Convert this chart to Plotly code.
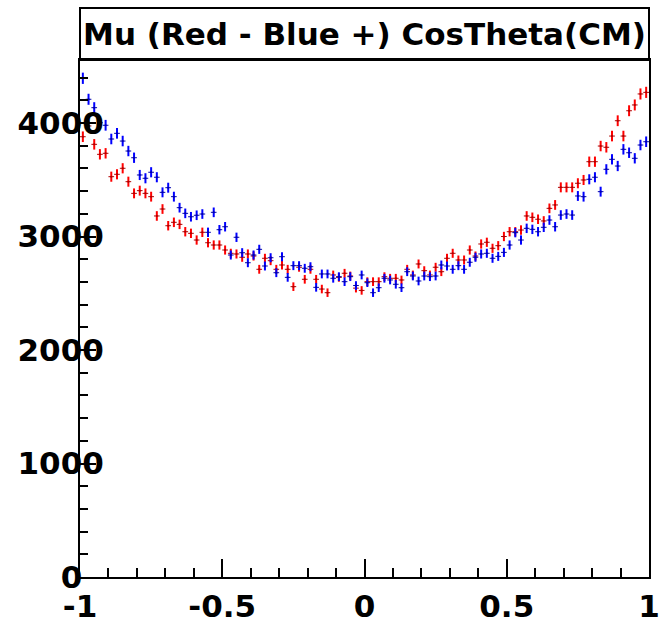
import numpy as np
import plotly.graph_objects as go

# Bin centres: 100 bins from -1 to 1
bin_edges_lo = -1.0
bin_width = 0.02
n_bins = 100
x_centers = [round(bin_edges_lo + (i + 0.5) * bin_width, 3) for i in range(n_bins)]

# Mu- (red) counts per bin
red_counts = [
    3879, 3974, 3812, 3724, 3733, 3527, 3548, 3601, 3483, 3380,
    3404, 3380, 3351, 3181, 3242, 3095, 3125, 3107, 3042, 3028,
    2969, 3037, 2945, 2925, 2925, 2881, 2852, 2846, 2817, 2846,
    2828, 2711, 2808, 2787, 2711, 2749, 2711, 2558, 2729, 2623,
    2711, 2623, 2537, 2505, 2661, 2640, 2676, 2652, 2545, 2525,
    2602, 2602, 2602, 2646, 2632, 2632, 2617, 2711, 2661, 2758,
    2699, 2661, 2729, 2690, 2808, 2852, 2793, 2793, 2881, 2828,
    2934, 2949, 2896, 2919, 3000, 3042, 3042, 3057, 3181, 3169,
    3152, 3137, 3248, 3278, 3433, 3433, 3433, 3469, 3498, 3659,
    3659, 3797, 3786, 3885, 4020, 3885, 4108, 4159, 4256, 4270,
]

# Mu+ (blue) counts per bin
blue_counts = [
    4394, 4209, 4135, 4003, 3980, 3859, 3909, 3841, 3753, 3694,
    3542, 3513, 3566, 3522, 3389, 3430, 3351, 3254, 3204, 3174,
    3187, 3198, 3037, 3213, 3060, 3086, 2837, 2993, 2857, 2769,
    2837, 2887, 2740, 2813, 2681, 2822, 2640, 2743, 2743, 2720,
    2734, 2552, 2670, 2670, 2632, 2646, 2602, 2646, 2568, 2661,
    2593, 2505, 2549, 2632, 2617, 2579, 2549, 2690, 2652, 2608,
    2652, 2646, 2652, 2749, 2740, 2711, 2743, 2711, 2773, 2817,
    2846, 2852, 2808, 2825, 2860, 2925, 3034, 2969, 3072, 3063,
    3042, 3081, 3145, 3086, 3189, 3198, 3189, 3357, 3351, 3504,
    3522, 3395, 3592, 3680, 3621, 3768, 3738, 3689, 3806, 3835,
]

red_err = list(np.sqrt(np.array(red_counts)) * 0.75)
blue_err = list(np.sqrt(np.array(blue_counts)) * 0.75)

x_tick_vals = [-1, -0.5, 0, 0.5, 1]
x_tick_text = ["-1", "-0.5", "0", "0.5", "1"]
y_tick_vals = [0, 1000, 2000, 3000, 4000]
y_tick_text = ["0\u00a0\u00a0", "1000", "2000", "3000", "4000"]

title_text = "Mu (Red - Blue +) CosTheta(CM)"

FONT = "DejaVu Sans"

fig = go.Figure()

for counts, err, col, dark in [
    (red_counts, red_err, "#ff0000", "#b00000"),
    (blue_counts, blue_err, "#0000ff", "#0000b0"),
]:
    fig.add_trace(go.Scatter(
        x=x_centers, y=counts, mode="markers",
        marker=dict(size=2, color=dark),
        error_y=dict(type="data", array=err, color=col, thickness=2, width=0),
        error_x=dict(type="constant", value=bin_width / 2, color=dark, thickness=1, width=0),
        showlegend=False, hoverinfo="x+y",
    ))

W, H = 660, 624
L, R, T, B = 80, 11, 60, 47
plot_h = H - T - B

fig.update_layout(
    width=W, height=H,
    margin=dict(l=L, r=R, t=T, b=B, pad=0, autoexpand=False),
    paper_bgcolor="white", plot_bgcolor="white",
    title=dict(
        text=title_text, x=0.5, xref="paper", xanchor="center",
        y=1 - 34 / H, yref="container", yanchor="middle",
        font=dict(family=FONT, size=31, color="black", weight="bold"),
    ),
    shapes=[dict(
        type="rect", xref="paper", yref="paper",
        x0=0, x1=1, y0=1.0, y1=1 + 52 / plot_h,
        line=dict(color="black", width=2), fillcolor="rgba(0,0,0,0)",
    )],
    font=dict(family=FONT, color="black"),
)

fig.update_xaxes(
    range=[-1, 1], showgrid=False, zeroline=False, automargin=False,
    showline=True, linecolor="black", linewidth=2, mirror=True,
    tickmode="array", tickvals=x_tick_vals, ticktext=x_tick_text,
    ticks="inside", ticklen=18, tickwidth=1.5, tickcolor="black",
    minor=dict(dtick=0.1, ticks="inside", ticklen=9, tickwidth=1.5, tickcolor="black", showgrid=False),
    tickfont=dict(family=FONT, size=31, color="black", weight="bold"),
    ticklabelstandoff=1,
)
fig.update_yaxes(
    range=[0, (H - B - T) / 113.5 * 1000], showgrid=False, zeroline=False, automargin=False,
    showline=True, linecolor="black", linewidth=2, mirror=True,
    tickmode="array", tickvals=y_tick_vals, ticktext=y_tick_text,
    ticks="inside", ticklen=16, tickwidth=1.5, tickcolor="black",
    minor=dict(dtick=200, ticks="inside", ticklen=8, tickwidth=1.5, tickcolor="black", showgrid=False),
    tickfont=dict(family=FONT, size=31, color="black", weight="bold"),
    ticklabelstandoff=-32,
)

fig.write_html("out.html")
